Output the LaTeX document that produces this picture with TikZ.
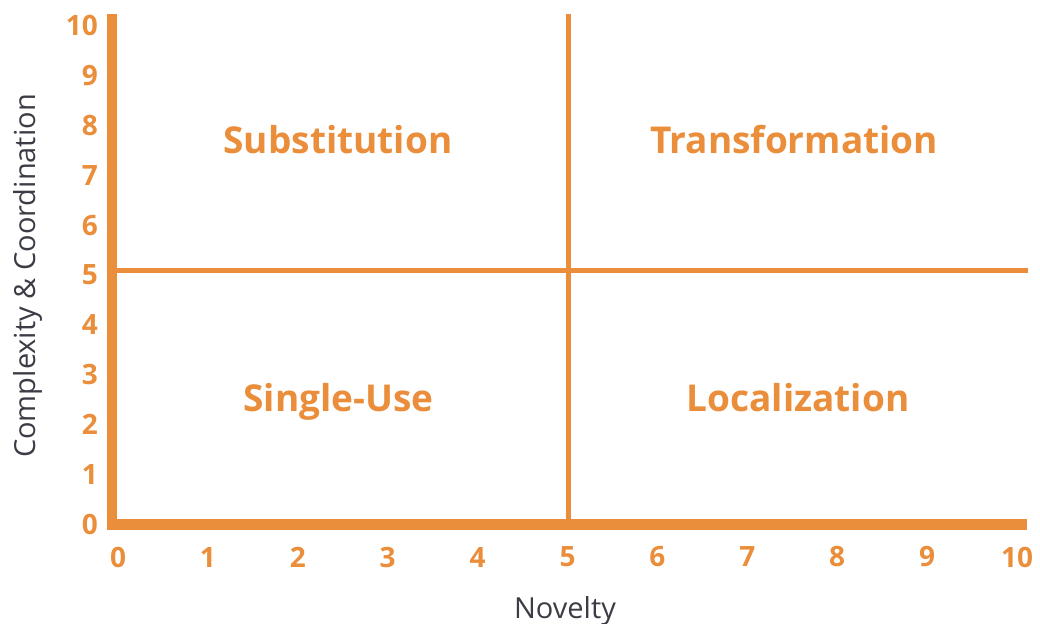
\documentclass[tikz,border=0pt]{standalone}
\usepackage{fontspec}
\setmainfont{Open Sans}
\definecolor{novorange}{RGB}{234,142,59}
\definecolor{axisgray}{RGB}{60,60,70}

\begin{document}
\begin{tikzpicture}[x=1pt,y=1pt]
\tikzstyle{every node}+=[inner sep=0pt]
\tikzstyle{quad}=[font=\fontsize{37}{40}\selectfont\bfseries, text=novorange]
\tikzstyle{tick}=[font=\fontsize{28}{30}\selectfont\bfseries, text=novorange]
\tikzstyle{title}=[font=\fontsize{29}{32}\selectfont, text=axisgray]
\useasboundingbox (0,0) rectangle (1040,-623);
% axes
\coordinate (top) at (112,-14);
\coordinate (origin) at (112,-524.5);
\coordinate (right) at (1027,-524.5);
\draw [novorange, line width=10.5] (top) -- (origin) -- (right);
% quadrant dividers
\coordinate (midleft) at (117,-270.5);
\coordinate (midright) at (1028,-270.5);
\coordinate (midtop) at (568.5,-14);
\coordinate (midbottom) at (568.5,-520);
\draw [novorange, line width=5] (midleft) -- (midright);
\draw [novorange, line width=5] (midtop) -- (midbottom);
% tick labels
\foreach \i in {0,...,10} {
  \node [tick] (x\i) at (118+89.9*\i,-557) {\i};
  \node [tick, anchor=east] (y\i) at (98,-524.5+49.9*\i) {\i};
}
% quadrants
\node [quad, anchor=base] (subst) at (338,-153) {Substitution};
\node [quad, anchor=base] (transf) at (794,-153) {Transformation};
\node [quad, anchor=base] (single) at (338.5,-411) {Single-Use};
\node [quad, anchor=base] (local) at (798,-411) {Localization};
% axis titles
\node [title, anchor=base] (novelty) at (565,-618) {Novelty};
\node [title, rotate=90, anchor=base] (complexity) at (35,-276) {Complexity \& Coordination};
\end{tikzpicture}
\end{document}
